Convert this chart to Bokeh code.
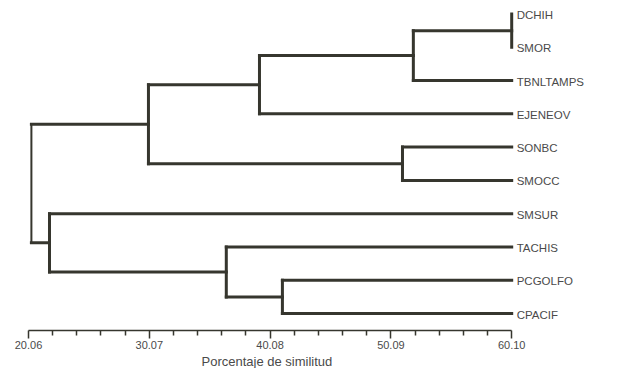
from bokeh.plotting import figure
from bokeh.models import Range1d, FixedTicker, ColumnDataSource, Title
from bokeh.core.properties import value
from bokeh.embed import file_html
from bokeh.resources import INLINE

# ---- data ----
leaves = ["DCHIH", "SMOR", "TBNLTAMPS", "EJENEOV", "SONBC", "SMOCC",
          "SMSUR", "TACHIS", "PCGOLFO", "CPACIF"]
# merges: (left child, right child, similarity); children are leaf names or merge ids "M#"
merge_left = ["DCHIH", "M0", "M1", "SONBC", "M2", "PCGOLFO", "TACHIS", "SMSUR", "M4"]
merge_right = ["SMOR", "TBNLTAMPS", "EJENEOV", "SMOCC", "M3", "CPACIF", "M5", "M6", "M7"]
merge_sim = [60.10, 51.95, 39.20, 51.05, 30.00, 41.10, 36.45, 21.80, 20.30]

tick_values = [20.06, 30.07, 40.08, 50.09, 60.10]
tick_labels = ["20.06", "30.07", "40.08", "50.09", "60.10"]
x_title = "Porcentaje de similitud"

LINE = "#36362e"
TXT = "#4a4a4a"

# ---- build dendrogram geometry ----
pos = {name: (tick_values[-1], float(i)) for i, name in enumerate(leaves)}
xs, ys, ws = [], [], []
for k, (a, b, s) in enumerate(zip(merge_left, merge_right, merge_sim)):
    ax, ay = pos[a]
    bx, by = pos[b]
    w = 2 if k == len(merge_sim) - 1 else 3
    xs.append([s, s]); ys.append([ay, by]); ws.append(w)
    if ax != s:
        xs.append([s, ax]); ys.append([ay, ay]); ws.append(3)
    if bx != s:
        xs.append([s, bx]); ys.append([by, by]); ws.append(3)
    pos["M%d" % k] = (s, (ay + by) / 2)

px_per_unit = 120.8 / 10.01
x_start = tick_values[0]
frame_w = 572
x_end = x_start + frame_w / px_per_unit

leaf_px = 33.28
frame_h = 322
y_top = -5.5 / leaf_px
y_bottom = y_top + frame_h / leaf_px

p = figure(frame_width=frame_w, frame_height=frame_h,
           x_range=Range1d(x_start, x_end), y_range=Range1d(y_bottom, y_top),
           output_backend="svg", toolbar_location=None,
           min_border_left=28, min_border_right=5, min_border_top=8, min_border_bottom=0)
p.background_fill_color = "white"
p.border_fill_color = "white"
p.outline_line_color = None
p.xgrid.visible = False
p.ygrid.visible = False
p.yaxis.visible = False

src = ColumnDataSource(dict(xs=xs, ys=ys, w=ws))
p.multi_line("xs", "ys", line_width="w", line_color=LINE, source=src, line_cap="square")

lsrc = ColumnDataSource(dict(x=[tick_values[-1]] * len(leaves),
                             y=[float(i) for i in range(len(leaves))],
                             t=leaves))
p.text("x", "y", text="t", source=lsrc, x_offset=5, y_offset=1, text_baseline="middle",
       text_align="left", text_font=value("Liberation Sans"), text_font_size="11.5px",
       text_color=TXT)

minor = []
for a, b in zip(tick_values[:-1], tick_values[1:]):
    for j in range(1, 5):
        minor.append(a + (b - a) * j / 5)

ax_ = p.xaxis[0]
ax_.ticker = FixedTicker(ticks=tick_values, minor_ticks=minor)
ax_.bounds = (tick_values[0], tick_values[-1])
ax_.major_label_overrides = {v: l for v, l in zip(tick_values, tick_labels)}
ax_.axis_line_color = LINE
ax_.axis_line_width = 1.5
ax_.major_tick_line_color = LINE
ax_.minor_tick_line_color = LINE
ax_.major_tick_line_width = 1.5
ax_.minor_tick_line_width = 1.5
ax_.major_tick_in = 0
ax_.major_tick_out = 8
ax_.minor_tick_in = 0
ax_.minor_tick_out = 5
ax_.major_label_standoff = 2
ax_.major_label_text_font = "Liberation Sans"
ax_.major_label_text_font_size = "11px"
ax_.major_label_text_color = TXT

t = Title(text=x_title, align="left", offset=173, standoff=0,
          text_font="Liberation Sans", text_font_style="normal",
          text_font_size="13px", text_color=TXT)
p.add_layout(t, "below")

open("out.html", "w").write(file_html(p, INLINE))
